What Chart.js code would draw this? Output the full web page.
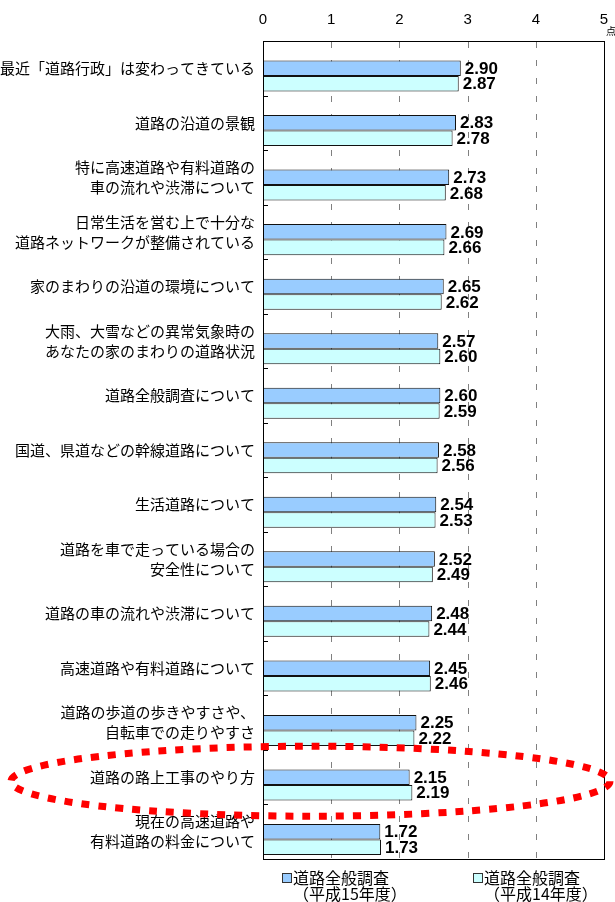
<!DOCTYPE html>
<html>
<head>
<meta charset="utf-8">
<script src="https://cdn.jsdelivr.net/npm/chart.js@4/dist/chart.umd.min.js"></script>
<style>
  html, body { margin: 0; padding: 0; background: #fff; }
  #wrap { width: 615px; height: 902px; position: relative; }
</style>
</head>
<body>
<div id="wrap"><canvas id="chart" width="615" height="902"></canvas></div>
<script>
// --- data ---
const categories = [
  ['最近「道路行政」は変わってきている'],
  ['道路の沿道の景観'],
  ['特に高速道路や有料道路の', '車の流れや渋滞について'],
  ['日常生活を営む上で十分な', '道路ネットワークが整備されている'],
  ['家のまわりの沿道の環境について'],
  ['大雨、大雪などの異常気象時の', 'あなたの家のまわりの道路状況'],
  ['道路全般調査について'],
  ['国道、県道などの幹線道路について'],
  ['生活道路について'],
  ['道路を車で走っている場合の', '安全性について'],
  ['道路の車の流れや渋滞について'],
  ['高速道路や有料道路について'],
  ['道路の歩道の歩きやすさや、', '自転車での走りやすさ'],
  ['道路の路上工事のやり方'],
  ['現在の高速道路や', '有料道路の料金について']
];
const valuesH15 = [2.90, 2.83, 2.73, 2.69, 2.65, 2.57, 2.60, 2.58, 2.54, 2.52, 2.48, 2.45, 2.25, 2.15, 1.72];
const valuesH14 = [2.87, 2.78, 2.68, 2.66, 2.62, 2.60, 2.59, 2.56, 2.53, 2.49, 2.44, 2.46, 2.22, 2.19, 1.73];
const seriesLabels = [['道路全般調査', '（平成15年度）'], ['道路全般調査', '（平成14年度）']];
const seriesColors = ['#99CCFF', '#CCFFFF'];
const xTickValues = [0, 1, 2, 3, 4, 5];
const unitLabel = '点';
const highlightIndex = 13;

const JP_FONT = '"Noto Sans CJK JP", "Noto Sans", sans-serif';
const NUM_FONT = '"Liberation Sans Narrow", "Liberation Sans", Arial, sans-serif';

// dashed vertical grid, drawn under the bars (short segments, 6 on / 12 off)
const gridPlugin = {
  id: 'dashGrid',
  beforeDatasetsDraw: function (chart) {
    const ctx = chart.ctx;
    const area = chart.chartArea;
    const xScale = chart.scales.x;
    ctx.save();
    ctx.fillStyle = '#808080';
    xTickValues.slice(1, -1).forEach(function (v) {
      const x = Math.round(xScale.getPixelForValue(v));
      for (let y = Math.round(area.top) + 1; y < area.bottom; y += 18) {
        ctx.fillRect(x, y, 1, Math.min(6, area.bottom - y));
      }
    });
    ctx.restore();
  }
};

// value labels, frame, inner tick marks, unit, legend, red ring
const decorPlugin = {
  id: 'decor',
  afterDatasetsDraw: function (chart) {
    const ctx = chart.ctx;
    const area = chart.chartArea;
    const yScale = chart.scales.y;
    const xScale = chart.scales.x;

    // frame
    ctx.save();
    ctx.strokeStyle = '#000';
    ctx.lineWidth = 1;
    ctx.strokeRect(Math.round(area.left) + 0.5, Math.round(area.top) + 0.5,
      Math.round(area.right - area.left), Math.round(area.bottom - area.top));

    // small tick marks between categories, pointing inward
    for (let i = 1; i < categories.length; i++) {
      const y = Math.round((yScale.getPixelForValue(i - 1) + yScale.getPixelForValue(i)) / 2) + 0.5;
      ctx.beginPath();
      ctx.moveTo(area.left, y);
      ctx.lineTo(area.left + 5, y);
      ctx.stroke();
    }

    // value labels
    ctx.fillStyle = '#000';
    ctx.font = 'bold 17px ' + NUM_FONT;
    ctx.textAlign = 'left';
    ctx.textBaseline = 'middle';
    [1, 2].forEach(function (di) {
      const meta = chart.getDatasetMeta(di);
      const data = chart.data.datasets[di].data;
      meta.data.forEach(function (bar, i) {
        ctx.fillText(data[i].toFixed(2), bar.x + 4, bar.y + 1);
      });
    });

    // unit next to the last tick
    ctx.font = '10px ' + JP_FONT;
    ctx.fillText(unitLabel, xScale.getPixelForValue(5) + 2, 31);

    // legend
    const lx = [282, 473];
    seriesLabels.forEach(function (lines, i) {
      const top = area.bottom + 14;
      ctx.fillStyle = seriesColors[i];
      ctx.fillRect(lx[i] + 0.5, top + 0.5, 9, 9);
      ctx.strokeStyle = '#333';
      ctx.strokeRect(lx[i] + 0.5, top + 0.5, 9, 9);
      ctx.fillStyle = '#000';
      ctx.font = '16px ' + JP_FONT;
      ctx.textBaseline = 'middle';
      ctx.fillText(lines[0], lx[i] + 11, top + 5);
      ctx.fillText(lines[1], lx[i] + 11, top + 21);
    });

    // red dotted ring around the highlighted row
    const cy = yScale.getPixelForValue(highlightIndex) + 4;
    ctx.strokeStyle = '#FF0000';
    ctx.lineWidth = 7;
    ctx.setLineDash([8, 9]);
    ctx.beginPath();
    ctx.ellipse(chart.width / 2 + 3, cy, chart.width / 2 - 8, 35, 0, 0, Math.PI * 2);
    ctx.stroke();
    ctx.restore();
  }
};

new Chart(document.getElementById('chart'), {
  type: 'bar',
  data: {
    labels: categories,
    datasets: [
      { label: '', data: categories.map(function () { return null; }), backgroundColor: 'transparent' },
      { label: seriesLabels[0].join(''), data: valuesH15, backgroundColor: seriesColors[0], borderColor: '#111', borderWidth: 1, borderSkipped: false },
      { label: seriesLabels[1].join(''), data: valuesH14, backgroundColor: seriesColors[1], borderColor: '#111', borderWidth: 1, borderSkipped: false }
    ]
  },
  options: {
    indexAxis: 'y',
    responsive: false,
    animation: false,
    devicePixelRatio: 1,
    categoryPercentage: 0.853,
    barPercentage: 1,
    layout: { padding: { left: 0, right: 11, top: 0, bottom: 43 } },
    plugins: {
      legend: { display: false },
      tooltip: { enabled: false }
    },
    scales: {
      x: {
        position: 'top',
        min: 0,
        max: 5,
        afterBuildTicks: function (scale) {
          scale.ticks = xTickValues.map(function (v) { return { value: v }; });
        },
        afterFit: function (scale) { scale.height = 41; },
        border: { display: false },
        grid: { display: false, drawTicks: false },
        ticks: {
          padding: 0,
          color: '#000',
          font: { family: NUM_FONT, size: 15, lineHeight: '42px' }
        }
      },
      y: {
        afterFit: function (scale) { scale.width = 263; },
        border: { display: false },
        grid: { display: false, drawTicks: false },
        ticks: {
          padding: 8,
          color: '#000',
          autoSkip: false,
          font: { family: JP_FONT, size: 15, lineHeight: 1.33 }
        }
      }
    }
  },
  plugins: [gridPlugin, decorPlugin]
});
</script>
</body>
</html>
